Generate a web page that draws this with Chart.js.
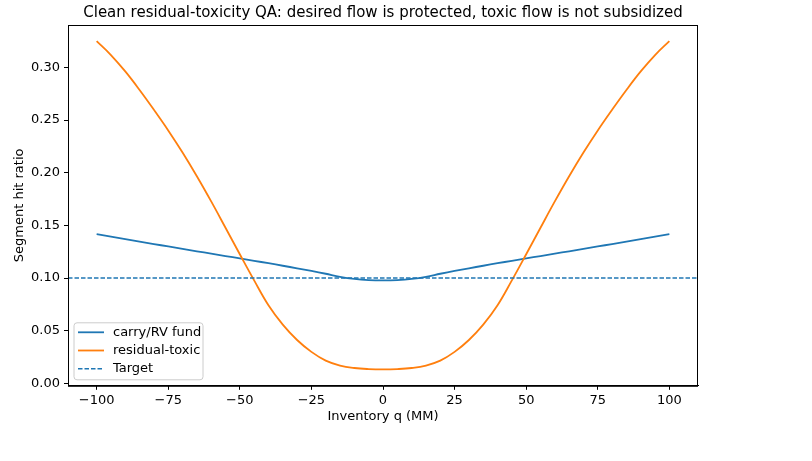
<!DOCTYPE html>
<html>
<head>
<meta charset="utf-8">
<title>Clean residual-toxicity QA</title>
<script src="https://cdn.jsdelivr.net/npm/chart.js@4.4.1/dist/chart.umd.min.js"></script>
<style>
  html, body { margin: 0; padding: 0; background: #fff; }
  #wrap { width: 812px; height: 461px; }
</style>
</head>
<body>
<div id="wrap"><canvas id="chart" width="812" height="461"></canvas></div>
<script>
// inventory grid (MM)
const inventory = [
    -100, -95, -90, -85, -80, -75, -70, -65, -60, -55, -50, -45, -40, -35, -30, -25, -20, -15, -10, -5,
    0, 5, 10, 15, 20, 25, 30, 35, 40, 45, 50, 55, 60, 65, 70, 75, 80, 85, 90, 95, 100
];

// hit ratio per segment
const carryFund = [
    0.1418, 0.1394, 0.1370, 0.1346, 0.1323, 0.1300, 0.1277, 0.1254, 0.1232, 0.1209, 0.1187,
    0.1164, 0.1141, 0.1117, 0.1093, 0.1068, 0.1041, 0.1012, 0.0992, 0.0981,
    0.0978,
    0.0981, 0.0992, 0.1012, 0.1041, 0.1068, 0.1093, 0.1117, 0.1141, 0.1164,
    0.1187, 0.1209, 0.1232, 0.1254, 0.1277, 0.1300, 0.1323, 0.1346, 0.1370, 0.1394, 0.1418
];

const residualToxic = [
    0.3250, 0.3118, 0.2962, 0.2786, 0.2598, 0.2402, 0.2192, 0.1967, 0.1728, 0.1478, 0.1226,
    0.0978, 0.0742, 0.0558, 0.0412, 0.0299, 0.0216, 0.0169, 0.0146, 0.0136,
    0.0133,
    0.0136, 0.0146, 0.0169, 0.0216, 0.0299, 0.0412, 0.0558, 0.0742, 0.0978,
    0.1226, 0.1478, 0.1728, 0.1967, 0.2192, 0.2402, 0.2598, 0.2786, 0.2962, 0.3118, 0.3250
];

const targetRatio = 0.10;

const xRange = [-110, 110];
const yRange = [-0.0023, 0.3403];
const xTickValues = [-100, -75, -50, -25, 0, 25, 50, 75, 100];
const yTickValues = [0, 0.05, 0.10, 0.15, 0.20, 0.25, 0.30];

const BLUE = '#1f77b4';
const ORANGE = '#ff7f0e';

Chart.defaults.font.family = '"DejaVu Sans", sans-serif';
Chart.defaults.font.size = 13;
Chart.defaults.color = '#000';

function pairs(ys) {
    return inventory.map((q, i) => ({x: q, y: ys[i]}));
}

function fmtX(v) {
    return v < 0 ? '\u2212' + Math.abs(v) : String(v);
}

// top/right spines plus the legend drawn inside the axes, like matplotlib
const axesExtras = {
    id: 'axesExtras',
    afterDraw(chart) {
        const {ctx, chartArea: a} = chart;
        ctx.save();
        ctx.strokeStyle = '#000';
        ctx.lineWidth = 1;
        ctx.strokeRect(a.left + 0.5, a.top + 0.5, a.right - a.left - 1, a.bottom - a.top);

        const bx = a.left + 6, bw = 129, bh = 57;
        const by = a.bottom - 6 - bh;
        const r = 3;
        ctx.beginPath();
        ctx.moveTo(bx + r, by);
        ctx.arcTo(bx + bw, by, bx + bw, by + bh, r);
        ctx.arcTo(bx + bw, by + bh, bx, by + bh, r);
        ctx.arcTo(bx, by + bh, bx, by, r);
        ctx.arcTo(bx, by, bx + bw, by, r);
        ctx.closePath();
        ctx.fillStyle = 'rgba(255,255,255,0.8)';
        ctx.fill();
        ctx.strokeStyle = '#cccccc';
        ctx.stroke();

        ctx.font = '13px "DejaVu Sans", sans-serif';
        ctx.textBaseline = 'middle';
        chart.data.datasets.forEach((ds, i) => {
            const y = by + 9.5 + i * 18.2;
            ctx.beginPath();
            ctx.setLineDash(ds.borderDash || []);
            ctx.strokeStyle = ds.borderColor;
            ctx.lineWidth = ds.borderWidth;
            ctx.moveTo(bx + 4, y);
            ctx.lineTo(bx + 30, y);
            ctx.stroke();
            ctx.setLineDash([]);
            ctx.fillStyle = '#000';
            ctx.fillText(ds.label, bx + 39, y);
        });
        ctx.restore();
    }
};

const ctx = document.getElementById('chart');
new Chart(ctx, {
    type: 'line',
    data: {
        datasets: [
            {
                label: 'carry/RV fund',
                data: pairs(carryFund),
                borderColor: BLUE,
                borderWidth: 1.8,
                pointRadius: 0,
                tension: 0.4,
                order: 3
            },
            {
                label: 'residual-toxic',
                data: pairs(residualToxic),
                borderColor: ORANGE,
                borderWidth: 1.8,
                pointRadius: 0,
                tension: 0.4,
                order: 2
            },
            {
                label: 'Target',
                data: xRange.map(x => ({x: x, y: targetRatio})),
                borderColor: BLUE,
                borderWidth: 1.4,
                borderDash: [4.5, 2],
                pointRadius: 0,
                order: 1
            }
        ]
    },
    options: {
        responsive: false,
        animation: false,
        devicePixelRatio: 1,
        layout: {padding: {left: 8, right: 114, top: 0, bottom: 33}},
        plugins: {
            legend: {display: false},
            tooltip: {enabled: false},
            title: {
                display: true,
                fullSize: false,
                text: 'Clean residual-toxicity QA: desired flow is protected, toxic flow is not subsidized',
                font: {size: 15, weight: 'normal'},
                color: '#000',
                padding: {top: 4, bottom: 3}
            }
        },
        scales: {
            x: {
                type: 'linear',
                min: xRange[0],
                max: xRange[1],
                afterBuildTicks: s => { s.ticks = xTickValues.map(v => ({value: v})); },
                ticks: {callback: v => fmtX(v), padding: 3, maxRotation: 0},
                grid: {drawOnChartArea: false, tickLength: 4, tickColor: '#000'},
                border: {color: '#000', width: 1},
                title: {display: true, text: 'Inventory q (MM)', padding: {top: -3, bottom: 4}}
            },
            y: {
                min: yRange[0],
                max: yRange[1],
                afterBuildTicks: s => { s.ticks = yTickValues.map(v => ({value: v})); },
                afterFit: s => { s.width = 60; },
                ticks: {callback: v => v.toFixed(2), padding: 4},
                grid: {drawOnChartArea: false, tickLength: 4, tickColor: '#000'},
                border: {color: '#000', width: 1},
                title: {display: true, text: 'Segment hit ratio', padding: {top: 4, bottom: 4}}
            }
        }
    },
    plugins: [axesExtras]
});
</script>
</body>
</html>
